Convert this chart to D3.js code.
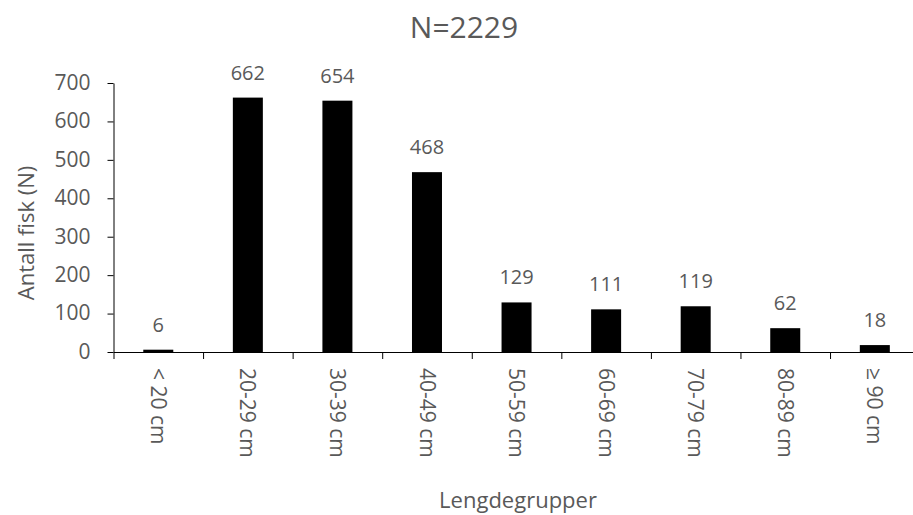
<!DOCTYPE html>
<html>
<head>
<meta charset="utf-8">
<script src="https://cdn.jsdelivr.net/npm/d3@7"></script>
<style>
  html, body { margin: 0; padding: 0; background: #fff; }
  svg { display: block; font-family: "Open Sans", "Liberation Sans", sans-serif; }
</style>
</head>
<body>
<svg id="chart" width="913" height="515"></svg>
<script>
const categories = ["< 20 cm", "20-29 cm", "30-39 cm", "40-49 cm", "50-59 cm", "60-69 cm", "70-79 cm", "80-89 cm", "≥ 90 cm"];
const counts = [6, 662, 654, 468, 129, 111, 119, 62, 18];
const yTicks = [0, 100, 200, 300, 400, 500, 600, 700];
const titleText = "N=2229";
const yTitle = "Antall fisk (N)";
const xTitle = "Lengdegrupper";

const svg = d3.select("#chart");
const textColor = "#595959";
const x0 = 113.5, x1 = 919.6, yBase = 352, yTop = 83;

const xCat = d3.scaleBand().domain(categories).range([x0, x1]).padding(0);
const xBar = d3.scaleBand().domain(categories).range([x0, x1]).paddingInner(0.665).paddingOuter(0.3325);
const xEdge = d3.scaleLinear().domain([0, categories.length]).range([x0, x1]);
const y = d3.scaleLinear().domain([0, 700]).range([yBase, yTop]);

// bars
svg.append("g").selectAll("rect").data(categories).join("rect")
  .attr("x", d => xBar(d))
  .attr("width", xBar.bandwidth())
  .attr("y", (d, i) => y(counts[i]))
  .attr("height", (d, i) => yBase - y(counts[i]))
  .attr("fill", "#000");

// value labels
svg.append("g").selectAll("text").data(categories).join("text")
  .attr("x", d => xCat(d) + xCat.bandwidth() / 2)
  .attr("y", (d, i) => y(counts[i]) - 18)
  .attr("text-anchor", "middle")
  .attr("font-size", 20)
  .attr("fill", textColor)
  .text((d, i) => counts[i]);

// y axis
const yAxis = svg.append("g").attr("transform", `translate(${x0},0)`)
  .call(d3.axisLeft(y).tickValues(yTicks).tickSize(6).tickSizeOuter(0).tickPadding(17));
yAxis.select(".domain").attr("stroke", "#000");
yAxis.selectAll(".tick line").attr("stroke", "#000");
yAxis.selectAll(".tick text").attr("font-size", 21).attr("fill", textColor)
  .attr("font-family", "Open Sans, sans-serif").attr("dy", "0.3em");

// x axis boundary ticks
const xAxis = svg.append("g").attr("transform", `translate(0,${yBase})`)
  .call(d3.axisBottom(xEdge).tickValues(d3.range(0, categories.length + 1)).tickFormat("").tickSize(7).tickSizeOuter(0));
xAxis.select(".domain").attr("stroke", "#000");
xAxis.selectAll(".tick line").attr("stroke", "#000");

// x category labels (rotated)
const xLab = svg.append("g").attr("transform", `translate(0,${yBase})`)
  .call(d3.axisBottom(xCat).tickSize(0).tickPadding(0));
xLab.select(".domain").remove();
xLab.selectAll(".tick text")
  .attr("font-size", 21).attr("fill", textColor)
  .attr("font-family", "Open Sans, sans-serif")
  .attr("text-anchor", "start")
  .attr("y", 0).attr("dy", "0.35em")
  .attr("transform", "translate(0,16) rotate(90)");

// title
svg.append("text").attr("x", 464).attr("y", 38).attr("text-anchor", "middle")
  .attr("font-size", 30).attr("fill", textColor).text(titleText);

// y title
svg.append("text").attr("transform", "translate(34,233) rotate(-90)")
  .attr("text-anchor", "middle").attr("font-size", 22).attr("fill", textColor).text(yTitle);

// x title
svg.append("text").attr("x", 518).attr("y", 508).attr("text-anchor", "middle")
  .attr("font-size", 22).attr("fill", textColor).text(xTitle);
</script>
</body>
</html>
